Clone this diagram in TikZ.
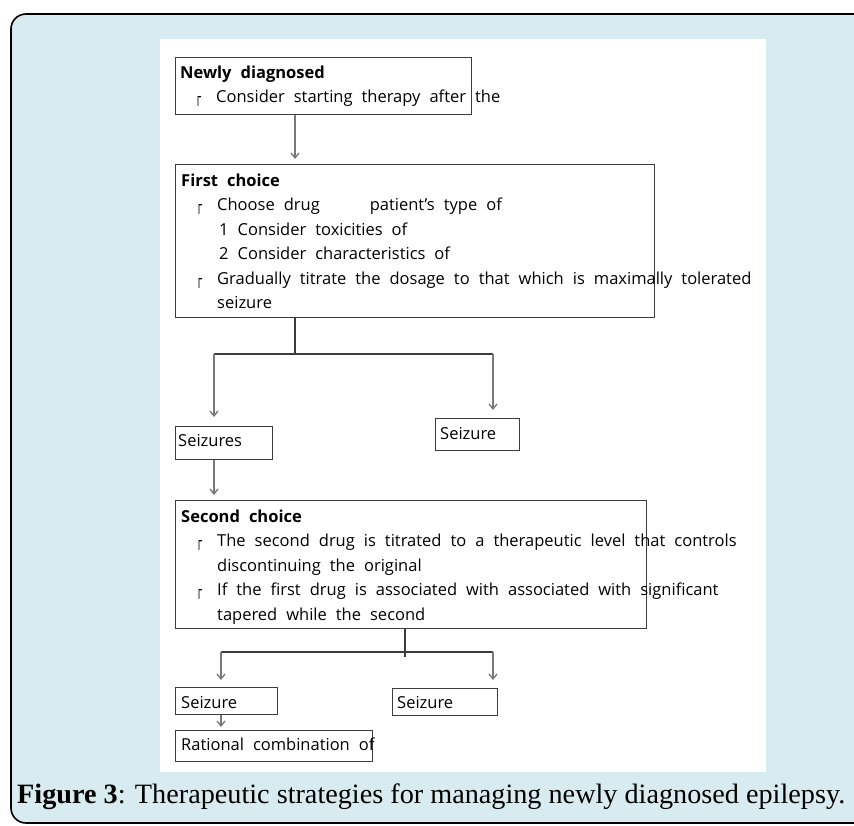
\documentclass[tikz,border=0pt]{standalone}
\usepackage{fontspec}
\usepackage{graphicx}
\usetikzlibrary{arrows.meta}
\newfontfamily\boxfont{Open Sans}[WordSpace=2.1]
\newfontfamily\capfont{Liberation Serif}
\newfontfamily\symfont{DejaVu Sans}
\definecolor{bgblue}{RGB}{215,235,240}
\definecolor{boxgray}{RGB}{60,60,60}
\definecolor{arrgray}{RGB}{120,120,120}
\newcommand\bulmark{\raisebox{0pt}{\resizebox{6pt}{6pt}{\symfont ┌}}}
\newcommand\bul{\hspace*{15pt}\makebox[21pt][l]{\bulmark}}
\newcommand\ind{\hspace*{36pt}}

\begin{document}
\begin{tikzpicture}[x=1pt, y=-1pt,
    box/.style = {draw=boxgray, line width=1.3pt, anchor=north west, inner sep=0pt},
    txt/.style = {anchor=base west, inner sep=0pt, font=\boxfont\fontsize{16.5}{24.5}\selectfont},
    stem/.style = {draw=boxgray, line width=1.3pt},
    arr/.style = {draw=arrgray, line width=1.3pt, -{Straight Barb[length=5pt,width=8pt]}}]
  \useasboundingbox (0,0) rectangle (854,825);
  \clip (0,0) rectangle (854,825);
  % frame and panel
  \draw[fill=bgblue, line width=1.6pt, rounded corners=15] (11,14) rectangle (890,823);
  \fill[white] (160,39) rectangle (766,772);

  % boxes
  \node[box, minimum width=296, minimum height=57] (newly) at (175,57) {};
  \node[box, minimum width=479, minimum height=153] (first) at (175,164) {};
  \node[box, minimum width=97, minimum height=33] (seizA) at (175,426) {};
  \node[box, minimum width=84, minimum height=32] (seizB) at (435,418) {};
  \node[box, minimum width=471, minimum height=128] (second) at (175,500) {};
  \node[box, minimum width=102, minimum height=27] (seizC) at (175,687) {};
  \node[box, minimum width=105, minimum height=27] (seizD) at (392,688) {};
  \node[box, minimum width=197, minimum height=31] (rational) at (175,730) {};

  % texts
  \node[txt] (newly-t) at (180,78) {\begin{tabular}[t]{@{}l@{}}
    \textbf{Newly diagnosed}\\
    \bul Consider starting therapy after the
  \end{tabular}};
  \node[txt] (first-t) at (181,186) {\begin{tabular}[t]{@{}l@{}}
    \textbf{First choice}\\
    \bul Choose drug\hspace{50pt}patient’s type of\\
    \hspace*{38pt}1 Consider toxicities of\\
    \hspace*{38pt}2 Consider characteristics of\\
    \bul Gradually titrate the dosage to that which is maximally tolerated\\
    \ind seizure
  \end{tabular}};
  \node[txt] (seizA-t) at (178,446) {Seizures};
  \node[txt] (seizB-t) at (440,439) {Seizure};
  \node[txt] (second-t) at (181,522) {\begin{tabular}[t]{@{}l@{}}
    \textbf{Second choice}\\
    \bul The second drug is titrated to a therapeutic level that controls\\
    \ind discontinuing the original\\
    \bul If the first drug is associated with associated with significant\\
    \ind tapered while the second
  \end{tabular}};
  \node[txt] (seizC-t) at (181,708) {Seizure};
  \node[txt] (seizD-t) at (397,708) {Seizure};
  \node[txt] (rational-t) at (181,750) {Rational combination of};

  % connectors
  \coordinate (n1) at ([xshift=120pt]newly.south west);
  \coordinate (j1) at (295,354);
  \coordinate (j1l) at (214,354);
  \coordinate (j1r) at (493,354);
  \coordinate (j2) at (405,652);
  \coordinate (j2l) at (221,652);
  \coordinate (j2r) at (493,652);
  \draw[arr, shorten >=5pt] (n1) -- (n1 |- first.north);
  \draw[stem] (first.south -| j1) -- (j1);
  \draw[stem] (j1l) -- (j1r);
  \draw[arr, shorten >=9pt] (j1l) -- (j1l |- seizA.north);
  \draw[arr, shorten >=8pt] (j1r) -- (j1r |- seizB.north);
  \draw[arr, shorten >=5pt] (seizA.south -| j1l) -- (j1l |- second.north);
  \draw[stem] (second.south -| j2) -- ([yshift=-5pt]j2);
  \draw[stem] (j2l) -- (j2r);
  \draw[arr, shorten >=7pt] (j2l) -- (j2l |- seizC.north);
  \draw[arr, shorten >=8pt] (j2r) -- (j2r |- seizD.north);
  \draw[arr, shorten >=3pt] (seizC.south -| j2l) -- (j2l |- rational.north);

  % caption
  \node[anchor=base west, inner sep=0pt, font=\capfont\fontsize{28}{30}\selectfont] (cap) at (17,803)
    {\resizebox{828pt}{\height}{\textbf{Figure 3}: Therapeutic strategies for managing newly diagnosed epilepsy.}};
\end{tikzpicture}
\end{document}
